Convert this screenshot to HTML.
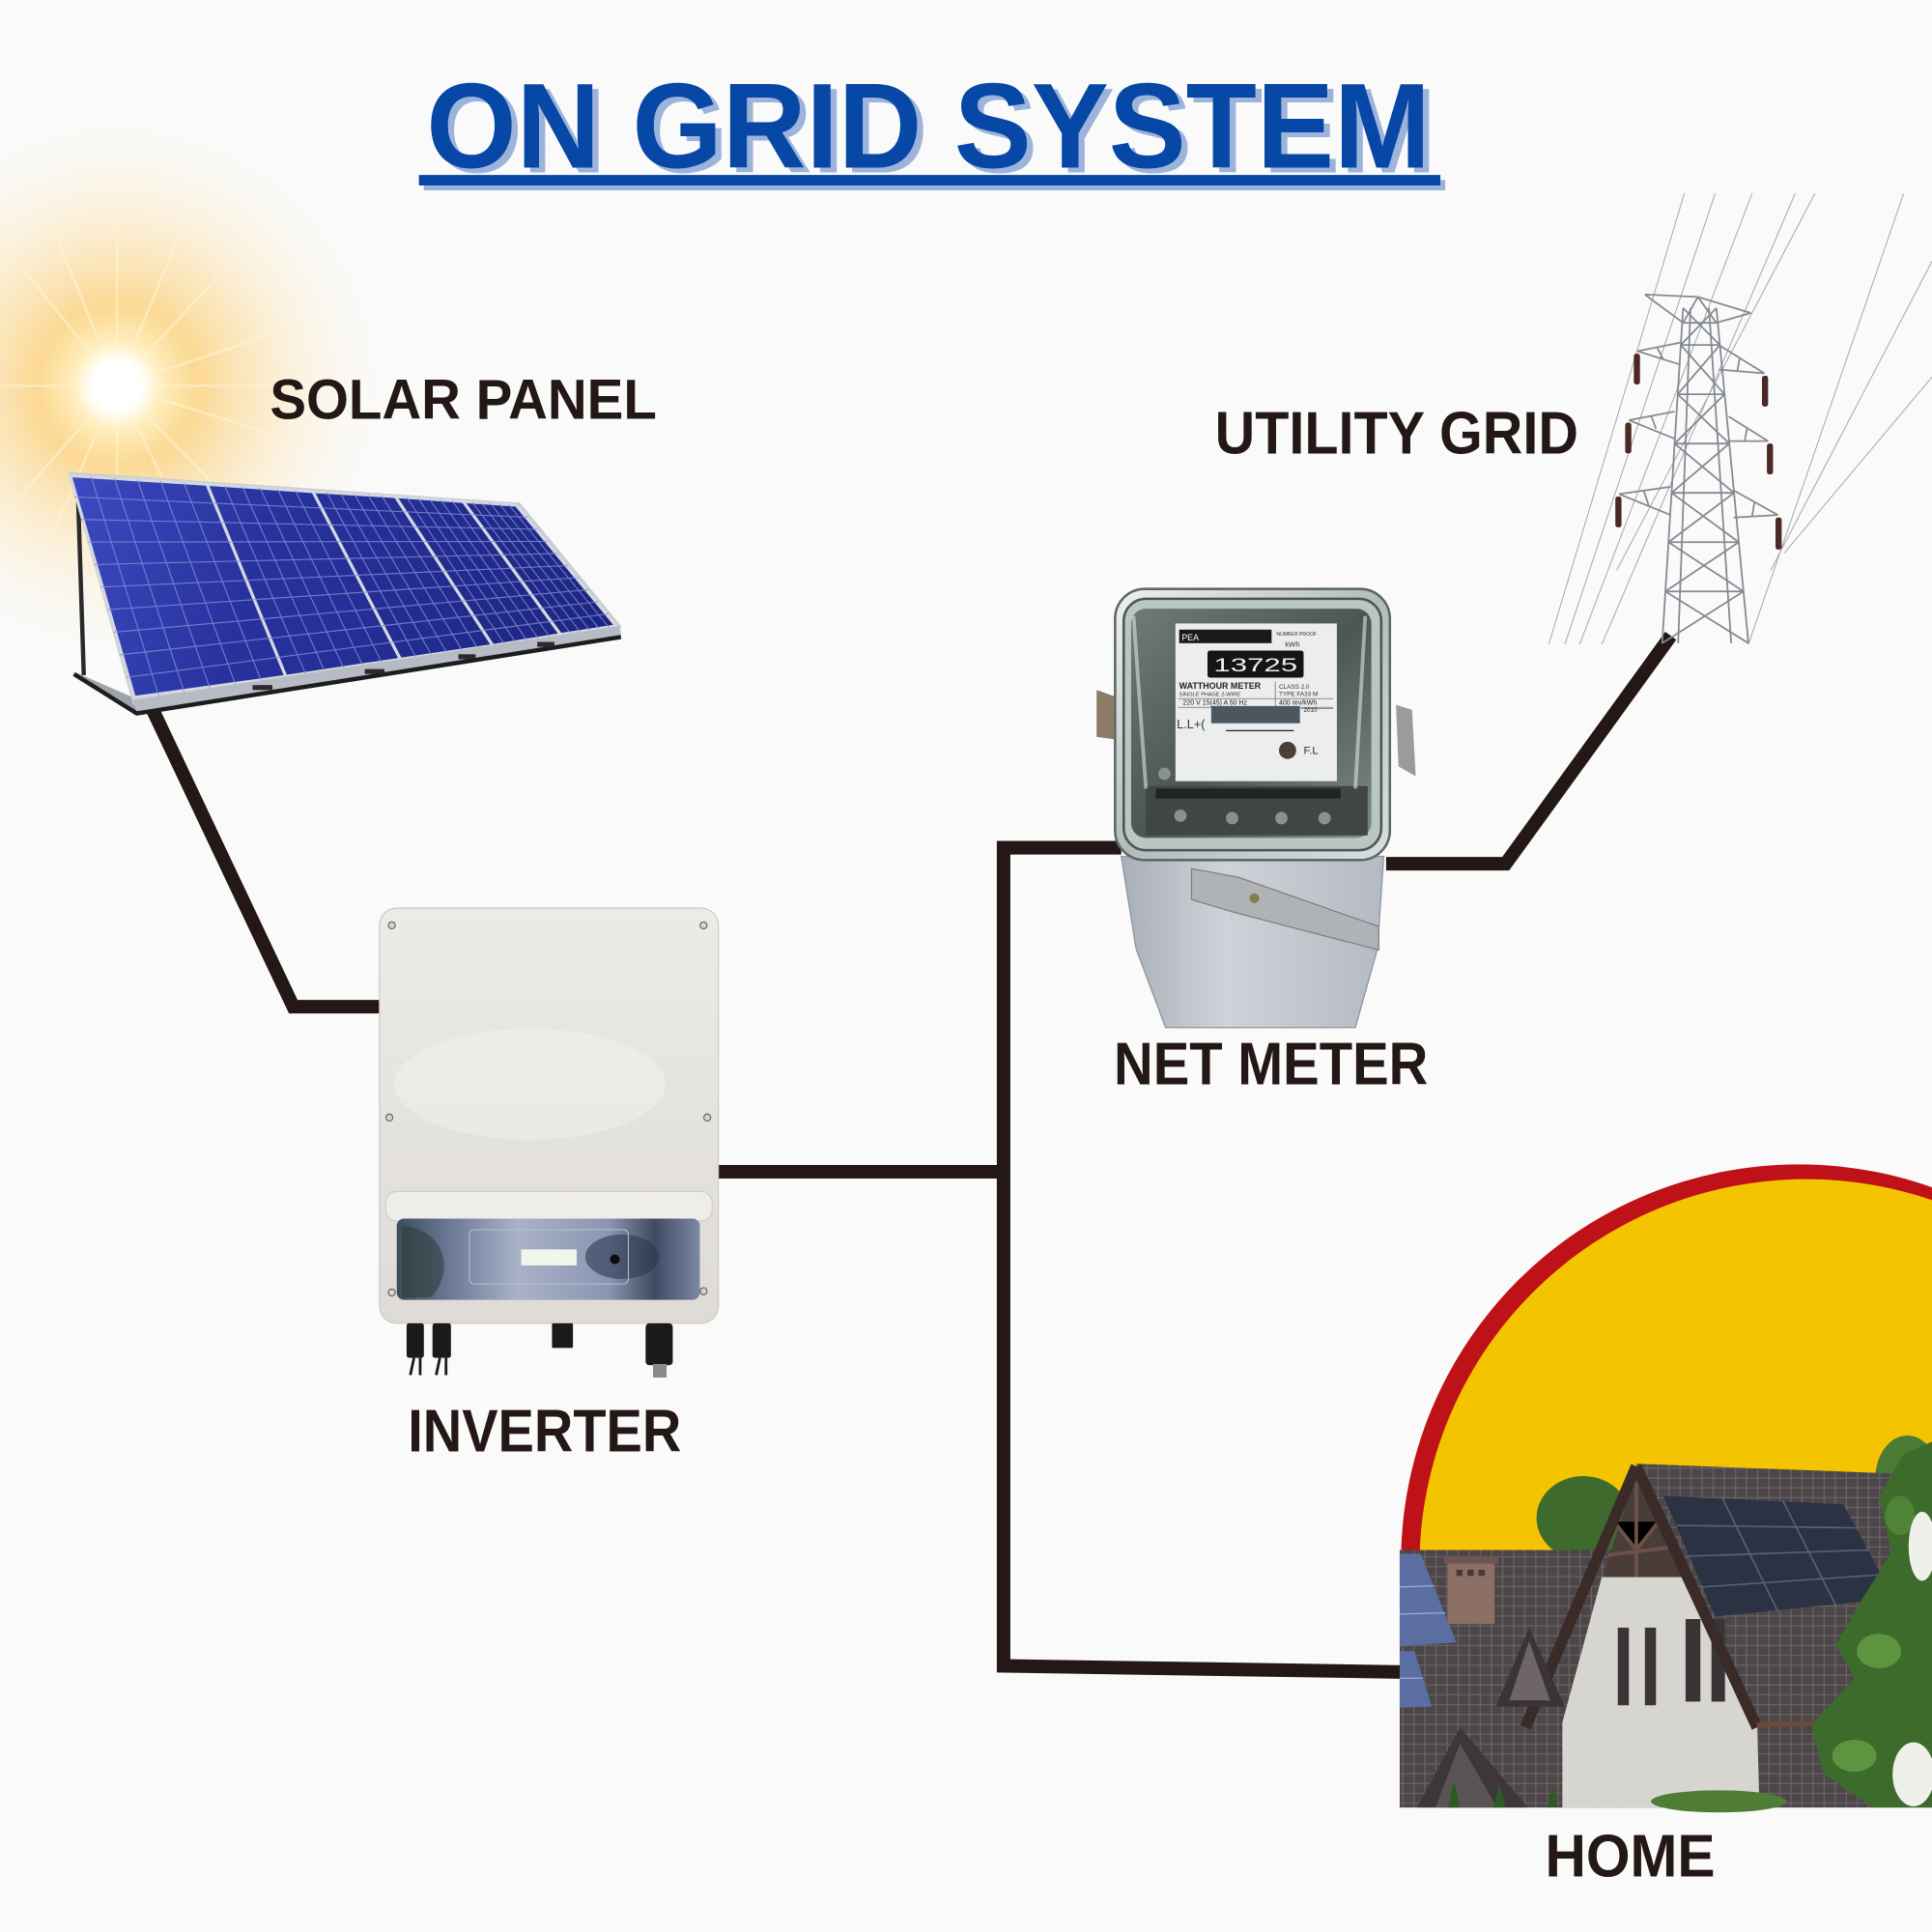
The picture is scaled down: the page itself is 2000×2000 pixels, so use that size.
<!DOCTYPE html>
<html><head><meta charset="utf-8"><style>
html,body{margin:0;padding:0;background:#fafafa;}
svg{display:block;}
text{font-family:"Liberation Sans",Arial,sans-serif;}
</style></head><body>
<svg width="2000" height="2000" viewBox="0 0 1568 1568" xmlns="http://www.w3.org/2000/svg">
<defs>
<radialGradient id="glow" cx="95" cy="313" r="235" gradientUnits="userSpaceOnUse">
<stop offset="0" stop-color="#ffffff"/>
<stop offset="0.08" stop-color="#ffffff"/>
<stop offset="0.15" stop-color="#ffeebb" stop-opacity="0.95"/>
<stop offset="0.28" stop-color="#fcd07a" stop-opacity="0.8"/>
<stop offset="0.5" stop-color="#fcd88f" stop-opacity="0.45"/>
<stop offset="0.75" stop-color="#fde9bf" stop-opacity="0.2"/>
<stop offset="1" stop-color="#fafafa" stop-opacity="0"/>
</radialGradient>
<radialGradient id="core" cx="95" cy="313" r="34" gradientUnits="userSpaceOnUse">
<stop offset="0" stop-color="#ffffff"/><stop offset="0.55" stop-color="#ffffff"/><stop offset="1" stop-color="#fff6dc" stop-opacity="0"/>
</radialGradient>
<linearGradient id="pb" x1="60" y1="390" x2="500" y2="520" gradientUnits="userSpaceOnUse">
<stop offset="0" stop-color="#3c4ac0"/><stop offset="0.35" stop-color="#28329e"/><stop offset="1" stop-color="#1c2580"/>
</linearGradient>
<linearGradient id="inv" x1="0" y1="0" x2="0" y2="1">
<stop offset="0" stop-color="#ecebe7"/><stop offset="1" stop-color="#dedbd5"/>
</linearGradient>
<linearGradient id="disp" x1="0" y1="0" x2="1" y2="0">
<stop offset="0" stop-color="#3c4b5c"/><stop offset="0.18" stop-color="#6d7a98"/><stop offset="0.4" stop-color="#a9b2c8"/><stop offset="0.7" stop-color="#8a95b0"/><stop offset="0.85" stop-color="#3f4a62"/><stop offset="1" stop-color="#7c88a6"/>
</linearGradient>
<linearGradient id="mbase" x1="0" y1="0" x2="1" y2="0">
<stop offset="0" stop-color="#a9afb7"/><stop offset="0.4" stop-color="#cfd3d9"/><stop offset="1" stop-color="#b4bac2"/>
</linearGradient>
<linearGradient id="glass" x1="0" y1="0" x2="1" y2="1">
<stop offset="0" stop-color="#eef1f1"/><stop offset="0.5" stop-color="#b3bcbb"/><stop offset="1" stop-color="#d8dfde"/>
</linearGradient>
<linearGradient id="inner" x1="0" y1="0" x2="1" y2="1">
<stop offset="0" stop-color="#6f7b79"/><stop offset="0.5" stop-color="#4c5654"/><stop offset="1" stop-color="#7d8987"/>
</linearGradient>
<clipPath id="cclip"><rect x="0" y="0" width="1568" height="1262"/></clipPath>
<pattern id="tiles" width="9" height="8" patternUnits="userSpaceOnUse">
<rect width="9" height="8" fill="#4c4649"/>
<path d="M0 7.5H9M4.5 0V7" stroke="#6a6366" stroke-width="1"/>
</pattern>
</defs>

<rect width="1568" height="1568" fill="#fafafa"/>

<!-- sun -->
<circle cx="95" cy="313" r="235" fill="url(#glow)"/>
<g stroke="#fff4d2" stroke-width="2" opacity="0.6" stroke-linecap="round">
<line x1="95" y1="313" x2="95" y2="170"/><line x1="95" y1="313" x2="95" y2="450"/>
<line x1="95" y1="313" x2="240" y2="313"/><line x1="95" y1="313" x2="0" y2="313"/>
<line x1="95" y1="313" x2="190" y2="210"/><line x1="95" y1="313" x2="200" y2="420"/>
<line x1="95" y1="313" x2="20" y2="220"/><line x1="95" y1="313" x2="10" y2="410"/>
<line x1="95" y1="313" x2="150" y2="180"/><line x1="95" y1="313" x2="160" y2="445"/>
<line x1="95" y1="313" x2="225" y2="270"/><line x1="95" y1="313" x2="230" y2="355"/>
<line x1="95" y1="313" x2="45" y2="190"/><line x1="95" y1="313" x2="40" y2="440"/>
</g>
<circle cx="95" cy="313" r="34" fill="url(#core)"/>

<!-- title -->
<rect x="344" y="146" width="829" height="8.5" fill="#9cb3dc"/>
<rect x="340" y="142" width="829" height="8.5" fill="#0747a6"/>
<text x="351" y="140" font-size="98" font-weight="bold" fill="#9cb3dc" textLength="815" lengthAdjust="spacingAndGlyphs">ON GRID SYSTEM</text>
<text x="346" y="136" font-size="98" font-weight="bold" fill="#0747a6" textLength="815" lengthAdjust="spacingAndGlyphs">ON GRID SYSTEM</text>

<!-- connectors -->
<g fill="none" stroke="#231815" stroke-width="11" stroke-linejoin="miter">
<path d="M122,572 L238,817 L310,817"/>
<path d="M580,951 L815,951"/>
<path d="M910,688 L814.5,688 L814.5,1352 L1138,1357"/>
<path d="M1125,701 L1222,701 L1356,516"/>
</g>

<!-- solar panel -->
<line x1="63" y1="392" x2="68" y2="548" stroke="#2a2a2c" stroke-width="3.5"/>
<polygon points="62,546 108,566 111,577 64,551" fill="#9ea3a9"/>
<polygon points="55,383 422,408 505,509 108,572" fill="#c9ccd3"/>
<g fill="url(#pb)" stroke="#d4d8e0" stroke-width="2.5" stroke-linejoin="round">
<polygon points="57,386 168,393 232,549 109,566"/>
<polygon points="168,393 254,399 325,535 232,549"/>
<polygon points="254,399 321,403 400,524 325,535"/>
<polygon points="321,403 376,407 455,515 400,524"/>
<polygon points="376,407 419,410 500,508 455,515"/>
</g>
<g stroke="#8893d8" stroke-width="0.9" opacity="0.75">
<line x1="60.3" y1="403.3" x2="428.2" y2="419.8"/><line x1="65.6" y1="421.6" x2="436.4" y2="429.6"/>
<line x1="70.9" y1="439.9" x2="444.6" y2="439.4"/><line x1="76.2" y1="458.2" x2="452.8" y2="449.2"/>
<line x1="81.5" y1="476.5" x2="461" y2="459"/><line x1="86.8" y1="494.8" x2="469.2" y2="468.8"/>
<line x1="92.1" y1="513.1" x2="477.4" y2="478.6"/><line x1="97.4" y1="531.4" x2="485.6" y2="488.4"/>
<line x1="102.7" y1="549.7" x2="493.8" y2="498.2"/>
<line x1="73.8" y1="386.3" x2="128.8" y2="564.8"/><line x1="92.7" y1="387.7" x2="149.5" y2="561.7"/>
<line x1="111.5" y1="389" x2="170.3" y2="558.5"/><line x1="130.3" y1="390.3" x2="191" y2="555.3"/>
<line x1="149.2" y1="391.7" x2="211.8" y2="552.2"/>
<line x1="182.3" y1="394" x2="247.9" y2="546.7"/><line x1="196.7" y1="395" x2="263.3" y2="544.3"/>
<line x1="211" y1="396" x2="278.8" y2="542"/><line x1="225.3" y1="397" x2="294.2" y2="539.7"/>
<line x1="239.7" y1="398" x2="309.6" y2="537.3"/>
<line x1="265.2" y1="399.7" x2="337.5" y2="533.2"/><line x1="276.3" y1="400.3" x2="350" y2="531.3"/>
<line x1="287.5" y1="401" x2="362.5" y2="529.5"/><line x1="298.7" y1="401.7" x2="375" y2="527.7"/>
<line x1="309.8" y1="402.3" x2="387.5" y2="525.8"/>
<line x1="330.2" y1="403.7" x2="409.2" y2="522.5"/><line x1="339.3" y1="404.3" x2="418.3" y2="521"/>
<line x1="348.5" y1="405" x2="427.5" y2="519.5"/><line x1="357.7" y1="405.7" x2="436.7" y2="518"/>
<line x1="366.8" y1="406.3" x2="445.8" y2="516.5"/>
<line x1="383.3" y1="407.5" x2="462.8" y2="513.8"/><line x1="390.7" y1="408" x2="470.7" y2="512.7"/>
<line x1="398" y1="408.5" x2="478.5" y2="511.5"/><line x1="405.3" y1="409" x2="486.3" y2="510.3"/>
<line x1="412.7" y1="409.5" x2="494.2" y2="509.2"/>
</g>
<polygon points="108,568 503,508 504,516 111,578" fill="#b7bbc3"/>
<polyline points="60,547 111,579 504,517" fill="none" stroke="#1d1d1f" stroke-width="3.5"/>
<g fill="#2a2a2c"><rect x="205" y="556" width="16" height="4"/><rect x="296" y="543" width="16" height="4"/><rect x="372" y="531" width="14" height="4"/><rect x="436" y="521" width="14" height="4"/></g>

<!-- inverter -->
<rect x="308" y="737" width="275" height="337" rx="14" fill="url(#inv)" stroke="#cfccc6" stroke-width="1"/>
<ellipse cx="430" cy="880" rx="110" ry="45" fill="#ffffff" opacity="0.25"/>
<rect x="313" y="967" width="265" height="24" rx="9" fill="#efede9" stroke="#d2cec7" stroke-width="1"/>
<rect x="322" y="989" width="246" height="66" rx="6" fill="url(#disp)"/>
<path d="M330,995 C360,1000 370,1030 350,1053 L326,1053 L326,995Z" fill="#2f3d3a" opacity="0.6"/>
<ellipse cx="505" cy="1020" rx="30" ry="18" fill="#2c3850" opacity="0.6"/>
<rect x="381" y="998" width="129" height="44" rx="4" fill="none" stroke="#b8c0d2" stroke-width="0.8"/>
<rect x="423" y="1014" width="45" height="13" fill="#f2f5ec"/>
<circle cx="499" cy="1022" r="4" fill="#0d0d10"/>
<g fill="#d8d6d2" stroke="#6b6b6b" stroke-width="1"><circle cx="318" cy="751" r="2.8"/><circle cx="571" cy="751" r="2.8"/><circle cx="316" cy="907" r="2.8"/><circle cx="574" cy="907" r="2.8"/><circle cx="318" cy="1049" r="2.8"/><circle cx="571" cy="1048" r="2.8"/></g>
<g fill="#1a1a1a">
<rect x="330" y="1074" width="14" height="28" rx="2"/><rect x="351" y="1074" width="15" height="28" rx="2"/>
<rect x="448" y="1074" width="17" height="20" rx="1"/>
<rect x="524" y="1074" width="22" height="34" rx="3"/>
</g>
<path d="M336,1102 L333,1116 M341,1102 L341,1116 M357,1102 L354,1116 M362,1102 L362,1116" stroke="#1a1a1a" stroke-width="2.2"/>
<rect x="530" y="1107" width="11" height="11" fill="#8a8a8a"/>

<!-- net meter -->
<polygon points="910,695 1123,695 1118,770 1100,834 946,834 922,770" fill="url(#mbase)" stroke="#8e959c" stroke-width="1"/>
<rect x="905" y="478" width="223" height="220" rx="24" fill="url(#glass)" stroke="#5d6766" stroke-width="2"/>
<rect x="912" y="486" width="209" height="204" rx="18" fill="#b9c7c3" stroke="#4a5654" stroke-width="2"/>
<rect x="918" y="494" width="195" height="186" rx="12" fill="url(#inner)"/>
<rect x="930" y="638" width="180" height="40" fill="#3f4645"/>
<rect x="938" y="640" width="150" height="8" fill="#1f2424"/>
<g fill="#8a918f"><circle cx="958" cy="662" r="5"/><circle cx="1000" cy="664" r="5"/><circle cx="1040" cy="664" r="5"/><circle cx="1075" cy="664" r="5"/><circle cx="945" cy="628" r="5"/></g>
<path d="M920,500 L930,640 M1108,500 L1100,640" stroke="#d9e2e0" stroke-width="3" opacity="0.6"/>
<rect x="954" y="506" width="131" height="128" fill="#eceeee"/>
<rect x="957" y="511" width="75" height="11" fill="#1a1a1a"/>
<text x="959" y="520" font-size="7" fill="#ffffff">PEA</text>
<text x="1036" y="516" font-size="4" fill="#333">NUMBER PROOF</text>
<text x="1043" y="525" font-size="6" fill="#333">kWh</text>
<rect x="980" y="528" width="78" height="22" rx="2" fill="#151515"/>
<text x="985" y="545" font-size="15" fill="#f0f0f0" textLength="68" lengthAdjust="spacingAndGlyphs">13725</text>
<text x="957" y="559" font-size="7" font-weight="bold" fill="#222">WATTHOUR METER</text>
<text x="957" y="565" font-size="4.5" fill="#333">SINGLE PHASE 2-WIRE</text>
<text x="1038" y="559" font-size="5" fill="#333">CLASS 2.0</text>
<text x="1038" y="565" font-size="5" fill="#333">TYPE FA33 M</text>
<text x="960" y="572" font-size="5.5" fill="#222">220 V 15(45) A 50 Hz</text>
<text x="1038" y="572" font-size="5.5" fill="#222">400 rev/kWh</text>
<text x="1058" y="578" font-size="5" fill="#222">2010</text>
<path d="M956,567H1082M956,574H1082M1035,553V580M1056,575H1082" stroke="#555" stroke-width="0.5" fill="none"/>
<rect x="983" y="573" width="72" height="14" fill="#4a5660"/>
<text x="955" y="591" font-size="10" fill="#333">L.L+(</text>
<text x="1058" y="612" font-size="9" fill="#333">F.L</text>
<circle cx="1045" cy="609" r="7" fill="#4a4038"/>
<path d="M995,593H1050" stroke="#222" stroke-width="1"/>
<path d="M890,560 L904,565 L904,600 L890,598Z" fill="#8a7a66"/>
<path d="M1133,572 L1146,576 L1149,630 L1135,622Z" fill="#9a9c9a"/>
<polygon points="967,705 1005,712 1119,752 1119,771 1000,740 967,730" fill="#b0b3b6" stroke="#7e8286" stroke-width="1"/>
<circle cx="1018" cy="729" r="4" fill="#8a7a50"/>

<!-- tower wires -->
<g stroke="#a3a9b0" stroke-width="0.8">
<line x1="1257" y1="523" x2="1367" y2="157"/>
<line x1="1270" y1="523" x2="1392" y2="157"/>
<line x1="1282" y1="523" x2="1422" y2="157"/>
<line x1="1300" y1="523" x2="1457" y2="157"/>
<line x1="1312" y1="463" x2="1473" y2="157"/>
<line x1="1419" y1="523" x2="1545" y2="157"/>
<line x1="1437" y1="463" x2="1568" y2="212"/>
<line x1="1448" y1="449" x2="1568" y2="306"/>
</g>
<!-- tower -->
<g stroke="#858a92" stroke-width="1.4" fill="none">
<path d="M1349,522 L1366,250 M1419,522 L1393,250 M1362,522 L1372,250 M1405,522 L1387,250"/>
<path d="M1349,522 L1415,480 M1419,522 L1351.6,480 M1351.6,480 L1411.2,440 M1415,480 L1354.1,440 M1354.1,440 L1407.3,400 M1411.2,440 L1356.6,400 M1356.6,400 L1403.5,360 M1407.3,400 L1359.1,360 M1359.1,360 L1399.7,320 M1403.5,360 L1361.6,320 M1361.6,320 L1395.9,280 M1399.7,320 L1364.1,280 M1364.1,280 L1393,250 M1395.9,280 L1366,250"/>
<path d="M1351.6,480H1415 M1354.1,440H1411.2 M1356.6,400H1407.3 M1359.1,360H1403.5 M1361.6,320H1399.7 M1364.1,280H1395.9"/>
<path d="M1335,239 L1378,241 L1421,254 M1335,239 L1366,262 M1421,254 L1393,262 M1366,262 L1393,262 M1378,241 L1366,262 M1378,241 L1393,262"/>
<path d="M1329,285 L1364,278 M1329,285 L1364,296 M1345,282 L1350,292 M1432,303 L1395,280 M1432,303 L1395,300 M1412,290 L1410,301"/>
<path d="M1322,341 L1359,334 M1322,341 L1359,356 M1340,337 L1344,348 M1435,358 L1403,338 M1435,358 L1403,358 M1418,347 L1416,358"/>
<path d="M1314,401 L1356,395 M1314,401 L1356,418 M1334,398 L1338,410 M1443,418 L1407,398 M1443,418 L1407,420 M1424,407 L1422,419"/>
</g>
<g fill="#4b2924">
<rect x="1326" y="287" width="5" height="25" rx="2"/><rect x="1319" y="343" width="5" height="25" rx="2"/><rect x="1311" y="403" width="5" height="25" rx="2"/>
<rect x="1430" y="305" width="5" height="25" rx="2"/><rect x="1434" y="360" width="5" height="25" rx="2"/><rect x="1441" y="420" width="5" height="26" rx="2"/>
</g>

<!-- home -->
<g clip-path="url(#cclip)">
<circle cx="1460" cy="1268" r="323" fill="#bf1118"/>
<circle cx="1466" cy="1271" r="314" fill="#f4c400"/>
</g>
<ellipse cx="1285" cy="1232" rx="38" ry="34" fill="#3f6a2e"/>
<ellipse cx="1548" cy="1200" rx="26" ry="35" fill="#4a7a34"/>
<rect x="1136" y="1258" width="432" height="209" fill="url(#tiles)"/>
<polygon points="1328,1188 1540,1196 1568,1200 1568,1398 1426,1402" fill="url(#tiles)"/>
<polygon points="1350,1214 1496,1221 1537,1297 1392,1312" fill="#2b3243"/>
<path d="M1398,1216 L1443,1308 M1447,1218 L1490,1303 M1370,1263 L1516,1258 M1361,1238 L1506,1240 M1381,1288 L1527,1278" stroke="#5a6478" stroke-width="1.2"/>
<polygon points="1136,1261 1153,1261 1182,1333 1136,1336" fill="#5a6ea2"/>
<polygon points="1136,1340 1148,1340 1162,1385 1136,1386" fill="#5a6ea2"/>
<path d="M1136,1288 L1164,1287 M1136,1310 L1173,1309 M1136,1362 L1155,1362" stroke="#9eaed0" stroke-width="1"/>
<rect x="1175" y="1266" width="38" height="52" fill="#8b6e64"/>
<rect x="1172" y="1263" width="44" height="6" fill="#6e5550"/>
<g fill="#4a3834"><rect x="1182" y="1274" width="5" height="5"/><rect x="1191" y="1274" width="5" height="5"/><rect x="1200" y="1274" width="5" height="5"/></g>
<polygon points="1328,1195 1300,1282 1366,1282" fill="#4a3d38"/>
<path d="M1328,1200 V1282 M1305,1262 L1355,1256 M1310,1235 L1328,1258 L1346,1235" stroke="#6b5148" stroke-width="3"/>
<polygon points="1300,1280 1366,1280 1426,1398 1428,1467 1268,1467 1268,1398" fill="#d7d5d0"/>
<g fill="#3a3436"><rect x="1313" y="1321" width="9" height="63"/><rect x="1335" y="1321" width="9" height="63"/><rect x="1368" y="1314" width="12" height="67"/><rect x="1389" y="1314" width="11" height="67"/></g>
<path d="M1328,1190 L1238,1402 M1328,1190 L1426,1402" stroke="#3a2b28" stroke-width="9" fill="none"/>
<polygon points="1241,1321 1214,1385 1270,1385" fill="#3a3436"/>
<polygon points="1241,1332 1225,1380 1258,1380" fill="#6d6566"/>
<polygon points="1185,1402 1150,1467 1240,1467" fill="#3d3739"/>
<polygon points="1185,1415 1165,1467 1215,1467" fill="#5a5354"/>
<path d="M1426,1400 L1568,1396" stroke="#6b4a3a" stroke-width="4"/>
<path d="M1568,1170 L1545,1180 L1525,1215 L1535,1260 L1510,1300 L1490,1335 L1505,1362 L1470,1400 L1480,1440 L1520,1467 L1568,1467Z" fill="#3c6b2c"/>
<ellipse cx="1525" cy="1340" rx="18" ry="14" fill="#5d9440"/>
<ellipse cx="1505" cy="1425" rx="18" ry="13" fill="#5d9440"/>
<ellipse cx="1542" cy="1230" rx="12" ry="16" fill="#4f8436"/>
<ellipse cx="1560" cy="1255" rx="11" ry="28" fill="#eef0ea"/>
<ellipse cx="1553" cy="1440" rx="17" ry="26" fill="#eef0ea"/>
<ellipse cx="1395" cy="1462" rx="55" ry="9" fill="#4f7d35"/>
<path d="M1175,1467 L1180,1445 L1185,1467Z M1212,1467 L1217,1448 L1222,1467Z M1255,1467 L1260,1450 L1265,1467Z" fill="#2f5a26"/>

<!-- labels -->
<g fill="#231815" font-weight="bold">
<text x="219" y="340" font-size="46" textLength="314" lengthAdjust="spacingAndGlyphs">SOLAR PANEL</text>
<text x="986" y="368" font-size="49" textLength="295" lengthAdjust="spacingAndGlyphs">UTILITY GRID</text>
<text x="904" y="880" font-size="49" textLength="255" lengthAdjust="spacingAndGlyphs">NET METER</text>
<text x="331" y="1178" font-size="49" textLength="222" lengthAdjust="spacingAndGlyphs">INVERTER</text>
<text x="1254" y="1523" font-size="49" textLength="138" lengthAdjust="spacingAndGlyphs">HOME</text>
</g>
</svg>
</body></html>
